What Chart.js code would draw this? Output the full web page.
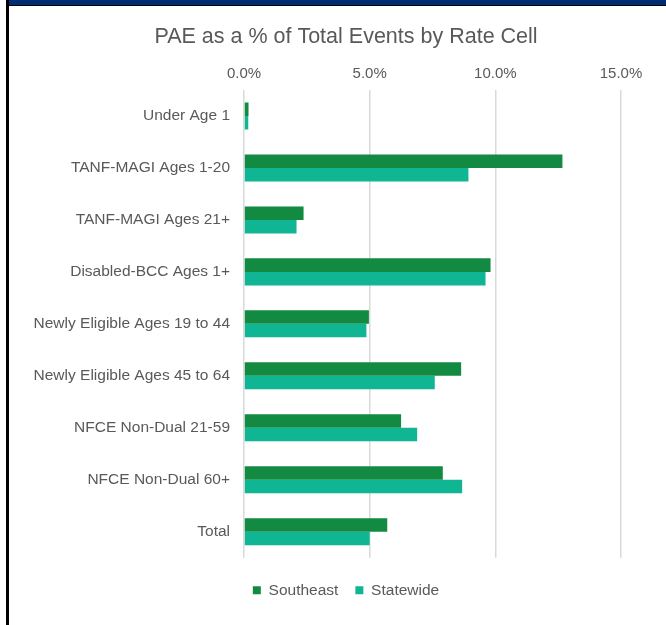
<!DOCTYPE html>
<html>
<head>
<meta charset="utf-8">
<script src="https://cdn.jsdelivr.net/npm/chart.js@4"></script>
<style>
  html, body { margin: 0; padding: 0; width: 666px; height: 625px; overflow: hidden; background: #fff; }
  #topbar { position: absolute; left: 9px; top: 0; width: 657px; height: 5px; background: #002D72; border-bottom: 1px solid #000; }
  #leftbar { position: absolute; left: 6px; top: 0; width: 3px; height: 625px; background: #000; }
  #chartBox { position: absolute; left: 9px; top: 7px; }
</style>
</head>
<body>
<div id="topbar"></div>
<div id="leftbar"></div>
<div id="chartBox"><canvas id="paeChart" width="674" height="618"></canvas></div>
<script>
const categories = [
  'Under Age 1',
  'TANF-MAGI Ages 1-20',
  'TANF-MAGI Ages 21+',
  'Disabled-BCC Ages 1+',
  'Newly Eligible Ages 19 to 44',
  'Newly Eligible Ages 45 to 64',
  'NFCE Non-Dual 21-59',
  'NFCE Non-Dual 60+',
  'Total'
];
const southeast = [0.18, 12.67, 2.37, 9.81, 4.97, 8.64, 6.25, 7.91, 5.70];
const statewide = [0.17, 8.93, 2.09, 9.61, 4.87, 7.59, 6.89, 8.68, 5.00];
const xTicks = [0, 5, 10, 15];

const textGray = '#595959';
const fontFamily = '"Liberation Sans", Arial, sans-serif';

const ctx = document.getElementById('paeChart').getContext('2d');

const chart = new Chart(ctx, {
  type: 'bar',
  data: {
    labels: categories,
    datasets: [{
      label: 'Southeast',
      data: southeast,
      backgroundColor: '#138A42',
      borderWidth: 0
    }, {
      label: 'Statewide',
      data: statewide,
      backgroundColor: '#10B694',
      borderWidth: 0
    }]
  },
  options: {
    indexAxis: 'y',
    responsive: false,
    animation: false,
    devicePixelRatio: 1,
    layout: {
      padding: { left: 0, right: 0, top: 0, bottom: 17 }
    },
    datasets: {
      bar: { categoryPercentage: 0.52, barPercentage: 1.0 }
    },
    scales: {
      x: {
        position: 'top',
        min: xTicks[0],
        max: xTicks[xTicks.length - 1],
        afterBuildTicks: (axis) => { axis.ticks = xTicks.map(v => ({ value: v })); },
        ticks: {
          padding: 7.5,
          color: textGray,
          font: { family: fontFamily, size: 15 },
          callback: (v) => Number(v).toFixed(1) + '%'
        },
        grid: { color: '#D9D9D9', lineWidth: 1.5, drawTicks: false },
        border: { display: false }
      },
      y: {
        afterFit: (axis) => { axis.width = 235; },
        ticks: {
          padding: 14,
          color: textGray,
          font: { family: fontFamily, size: 15.5 }
        },
        grid: { display: false, drawTicks: false },
        border: { display: false }
      },
      // empty space on the right so the plot ends at 15%
      rightGap: {
        type: 'category',
        position: 'right',
        afterFit: (axis) => { axis.width = 62; },
        ticks: { display: false },
        grid: { display: false, drawTicks: false },
        border: { display: false }
      }
    },
    plugins: {
      title: {
        display: true,
        text: 'PAE as a % of Total Events by Rate Cell',
        color: textGray,
        font: { family: fontFamily, size: 21.5, weight: 'normal' },
        padding: { top: 17, bottom: 7.2 }
      },
      legend: {
        position: 'bottom',
        title: { display: true, text: '', font: { size: 6.5 }, padding: 0 },
        labels: {
          boxWidth: 8,
          boxHeight: 8,
          padding: 17,
          color: textGray,
          font: { family: fontFamily, size: 15.5 }
        }
      },
      tooltip: { enabled: false }
    }
  }
});
</script>
</body>
</html>
